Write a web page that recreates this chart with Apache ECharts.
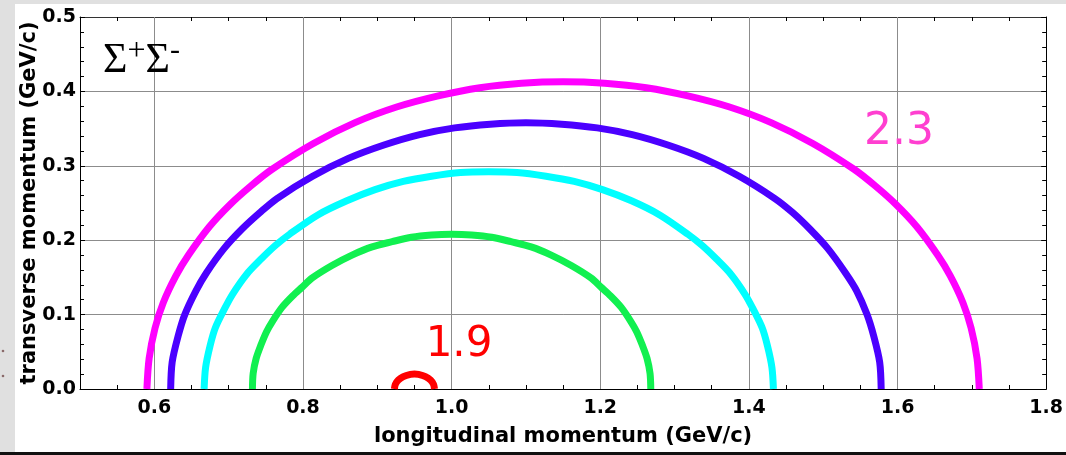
<!DOCTYPE html>
<html><head><meta charset="utf-8">
<script src="https://cdn.jsdelivr.net/npm/echarts@6/dist/echarts.min.js"></script>
<style>html,body{margin:0;padding:0;background:#e0e0e0}#c{width:1066px;height:455px}</style>
</head><body><div id="c"></div>
<script>
// Curves: [longitudinal, transverse] in GeV/c
const curve23 = [[0.59,0],[0.593,0.041],[0.601,0.082],[0.612,0.116],[0.629,0.152],[0.646,0.180],[0.674,0.218],[0.702,0.248],[0.73,0.273],[0.758,0.295],[0.814,0.330],[0.87,0.358],[0.926,0.379],[0.982,0.394],[1.038,0.405],[1.094,0.411],[1.15,0.413],
  [1.206,0.411],[1.262,0.405],[1.318,0.394],[1.374,0.379],[1.43,0.358],[1.486,0.330],[1.542,0.295],[1.57,0.273],[1.598,0.248],[1.626,0.218],[1.654,0.180],[1.671,0.152],[1.688,0.116],[1.699,0.082],[1.707,0.041],[1.71,0]];
const curve22 = [[0.622,0],[0.624,0.036],[0.632,0.071],[0.641,0.100],[0.656,0.132],[0.670,0.156],[0.694,0.189],[0.718,0.215],[0.742,0.237],[0.765,0.256],[0.813,0.286],[0.861,0.310],[0.909,0.328],[0.957,0.342],[1.004,0.351],[1.052,0.356],[1.10,0.358],
  [1.148,0.356],[1.196,0.351],[1.243,0.342],[1.291,0.328],[1.339,0.310],[1.387,0.286],[1.435,0.256],[1.459,0.237],[1.482,0.215],[1.506,0.189],[1.530,0.156],[1.545,0.132],[1.559,0.100],[1.568,0.071],[1.576,0.036],[1.578,0]];
const curve21 = [[0.667,0],[0.669,0.029],[0.675,0.058],[0.682,0.082],[0.694,0.107],[0.705,0.127],[0.724,0.154],[0.744,0.175],[0.763,0.193],[0.782,0.208],[0.820,0.234],[0.859,0.253],[0.897,0.268],[0.935,0.279],[0.973,0.286],[1.012,0.291],[1.05,0.292],
  [1.088,0.291],[1.127,0.286],[1.165,0.279],[1.203,0.268],[1.242,0.253],[1.280,0.234],[1.318,0.208],[1.337,0.193],[1.356,0.175],[1.376,0.154],[1.395,0.127],[1.406,0.107],[1.418,0.082],[1.425,0.058],[1.431,0.029],[1.433,0]];
const curve20 = [[0.732,0],[0.733,0.021],[0.737,0.041],[0.743,0.058],[0.751,0.077],[0.759,0.091],[0.772,0.110],[0.786,0.125],[0.799,0.137],[0.812,0.149],[0.839,0.166],[0.866,0.180],[0.893,0.191],[0.920,0.198],[0.946,0.204],[0.973,0.207],[1.0,0.208],
  [1.027,0.207],[1.054,0.204],[1.080,0.198],[1.107,0.191],[1.134,0.180],[1.161,0.166],[1.188,0.149],[1.201,0.137],[1.214,0.125],[1.228,0.110],[1.241,0.091],[1.249,0.077],[1.257,0.058],[1.263,0.041],[1.267,0.021],[1.268,0]];
const curve19 = [[0.923,0],[0.9243,0.0062],[0.9284,0.012],[0.9351,0.0167],[0.9446,0.0196],[0.95,0.02],[0.9554,0.0196],[0.9649,0.0167],[0.9716,0.012],[0.9757,0.0062],[0.977,0]];
const xGridValues = [0.6,0.8,1.0,1.2,1.4,1.6];
const xLabelValues = [0.6,0.8,1.0,1.2,1.4,1.6,1.8];
const labelTop = {text:'2.3', x:1.602, y:0.345};
const labelLow = {text:'1.9', x:1.01, y:0.059};

const chart = echarts.init(document.getElementById('c'), null, {renderer:'canvas'});
const tickFont = {fontFamily:'DejaVu Sans', fontWeight:'bold', fontSize:19, color:'#000'};
const nameFont = {fontFamily:'DejaVu Sans', fontWeight:'bold', fontSize:21, color:'#000'};
function line(data, color, w){
  return {type:'line', data, smooth:0.3, showSymbol:false, symbol:'none', silent:true,
    lineStyle:{color, width:w, cap:'butt', join:'round'}, z:5};
}
function textMark(lbl, color, size){
  return {type:'scatter', silent:true, symbolSize:0, z:10, itemStyle:{opacity:1},
    data:[[lbl.x,lbl.y]],
    label:{show:true, position:'inside', formatter:lbl.text, fontFamily:'DejaVu Sans', fontSize:size, color, opacity:1}};
}
chart.setOption({
  animation:false,
  backgroundColor:'#e0e0e0',
  graphic:[
    {type:'rect', shape:{x:15,y:4,width:1051,height:448}, style:{fill:'#fff'}, z:-10, silent:true},
    {type:'rect', shape:{x:0,y:452,width:1066,height:3}, style:{fill:'#111'}, z:-10, silent:true},
    {type:'circle', shape:{cx:3,cy:351,r:1.3}, style:{fill:'#8a6a6a'}, silent:true},
    {type:'circle', shape:{cx:3,cy:376,r:1.3}, style:{fill:'#8a6a6a'}, silent:true},
    {type:'text', left:103, top:36, z:20, silent:true, style:{
      text:'{s|Σ}{p|+}{s|Σ}{m|-}', rich:{
        s:{fontFamily:'Liberation Serif', fontSize:42, fill:'#000', verticalAlign:'bottom'},
        p:{fontFamily:'Liberation Serif', fontSize:32, fill:'#000', verticalAlign:'top', padding:[0,0,14,0]},
        m:{fontFamily:'Liberation Serif', fontSize:30, fill:'#000', verticalAlign:'top', padding:[0,0,16,0]}
      }}}
  ],
  grid:{left:80, right:17, top:17, bottom:66, show:false},
  xAxis:[{
    type:'value', min:0.5, max:1.8, interval:0.1, position:'bottom',
    name:'longitudinal momentum (GeV/c)', nameLocation:'middle', nameGap:37,
    nameTextStyle:nameFont,
    axisLine:{show:true, onZero:false, lineStyle:{color:'#000', width:1}},
    axisTick:{show:true, inside:true, length:4, lineStyle:{color:'#000'}},
    minorTick:{show:true, splitNumber:2, length:4, lineStyle:{color:'#000'}},
    splitLine:{show:false}, minorSplitLine:{show:false},
    axisLabel:Object.assign({margin:10, formatter:function(v){
      for (const l of xLabelValues) if (Math.abs(l-v)<1e-6) return l.toFixed(1);
      return '';
    }}, tickFont)
  },{
    type:'value', min:0.5, max:1.8, interval:0.1, position:'top',
    axisLine:{show:true, onZero:false, lineStyle:{color:'#333', width:1}},
    axisTick:{show:true, inside:true, length:4, lineStyle:{color:'#000'}},
    minorTick:{show:true, splitNumber:2, length:4, lineStyle:{color:'#000'}},
    splitLine:{show:false}, axisLabel:{show:false}
  }],
  yAxis:[{
    type:'value', min:0, max:0.5, interval:0.1, position:'left',
    name:'transverse momentum (GeV/c)', nameLocation:'middle', nameGap:40, nameRotate:90,
    nameMoveOverlap:false,
    nameTextStyle:nameFont,
    axisLine:{show:true, onZero:false, lineStyle:{color:'#000', width:1}},
    axisTick:{show:true, inside:true, length:5, lineStyle:{color:'#000'}},
    minorTick:{show:true, splitNumber:5, length:4, lineStyle:{color:'#000'}},
    splitLine:{show:true, lineStyle:{color:'#8c8c8c', width:1}},
    axisLabel:Object.assign({margin:4, formatter:function(v){return v.toFixed(1);}}, tickFont)
  },{
    type:'value', min:0, max:0.5, interval:0.1, position:'right',
    axisLine:{show:true, onZero:false, lineStyle:{color:'#000', width:1}},
    axisTick:{show:true, inside:true, length:5, lineStyle:{color:'#000'}},
    minorTick:{show:true, splitNumber:5, length:4, lineStyle:{color:'#000'}},
    splitLine:{show:false}, axisLabel:{show:false}
  }],
  series:[
    {type:'line', data:[], silent:true, z:1,
      markLine:{silent:true, symbol:'none', label:{show:false}, animation:false,
        lineStyle:{color:'#8c8c8c', width:1, type:'solid'},
        data:xGridValues.map(v=>({xAxis:v}))}},
    line(curve23, '#ff00ff', 7),
    line(curve22, '#4b00ff', 7),
    line(curve21, '#00ffff', 7),
    line(curve20, '#11f050', 7),
    line(curve19, '#ff0000', 7),
    textMark(labelTop, '#ff3fd0', 44),
    textMark(labelLow, '#ff0000', 42)
  ]
});
</script></body></html>
